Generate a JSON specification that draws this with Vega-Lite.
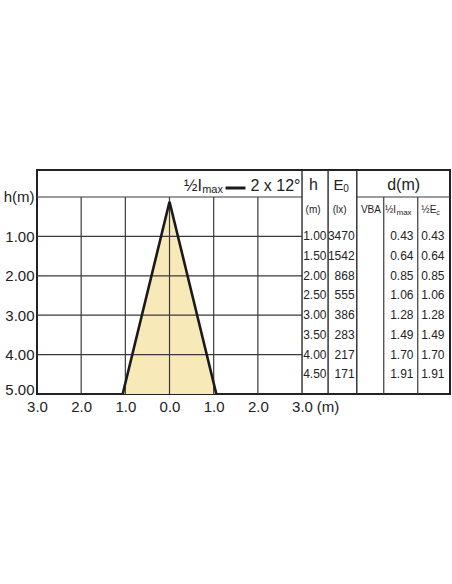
{
  "$schema": "https://vega.github.io/schema/vega-lite/v6.json",
  "width": 413,
  "height": 224,
  "autosize": {"type": "none"},
  "padding": {"left": 37, "top": 170, "right": 2, "bottom": 190},
  "background": "white",
  "data": {"values": [{}]},
  "config": {
    "view": {"stroke": "#222", "strokeWidth": 2},
    "font": "Liberation Sans",
    "text": {"font": "Liberation Sans", "color": "#222"}
  },
  "datasets": {
    "cone": [
      {"h": 0.12, "lo": 0, "hi": 0},
      {"h": 5, "lo": -1.06, "hi": 1.06}
    ],
    "edge": [
      {"h": 5, "d": -1.06},
      {"h": 0.12, "d": 0},
      {"h": 5, "d": 1.06}
    ],
    "table": [
      {"h": 1.0, "E0": 3470, "dI": 0.43, "dE": 0.43},
      {"h": 1.5, "E0": 1542, "dI": 0.64, "dE": 0.64},
      {"h": 2.0, "E0": 868, "dI": 0.85, "dE": 0.85},
      {"h": 2.5, "E0": 555, "dI": 1.06, "dE": 1.06},
      {"h": 3.0, "E0": 386, "dI": 1.28, "dE": 1.28},
      {"h": 3.5, "E0": 283, "dI": 1.49, "dE": 1.49},
      {"h": 4.0, "E0": 217, "dI": 1.70, "dE": 1.70},
      {"h": 4.5, "E0": 171, "dI": 1.91, "dE": 1.91}
    ]
  },
  "layer": [
    {
      "data": {"name": "cone"},
      "mark": {"type": "area", "orient": "horizontal", "color": "#f8e9b9"},
      "encoding": {
        "y": {
          "field": "h", "type": "quantitative",
          "scale": {"domain": [-0.685, 5], "reverse": true, "nice": false, "zero": false},
          "axis": {
            "values": [0, 1, 2, 3, 4, 5],
            "labelExpr": "datum.value == 0 ? 'h(m)' : format(datum.value, '.2f')",
            "title": null, "grid": false, "domain": false, "ticks": false, "tickSize": 0,
            "labelFontSize": 15, "labelFont": "Liberation Sans", "labelColor": "#222",
            "labelPadding": 3,
            "labelBaseline": {"condition": {"test": "datum.value == 5", "value": "alphabetic"}, "value": "middle"}
          }
        },
        "x": {
          "field": "lo", "type": "quantitative",
          "scale": {"domain": [-3, 6.35], "nice": false, "zero": false},
          "axis": {
            "values": [-3, -2, -1, 0, 1, 2, 3],
            "labelExpr": "format(abs(datum.value), '.1f')",
            "title": null, "grid": false, "domain": false, "ticks": false, "tickSize": 0,
            "labelFontSize": 15, "labelFont": "Liberation Sans", "labelColor": "#222",
            "labelPadding": 17, "labelBaseline": "alphabetic", "labelFlush": false
          }
        },
        "x2": {"field": "hi"}
      }
    },
    {
      "data": {"values": [{"v": -2}, {"v": -1}, {"v": 0}, {"v": 1}, {"v": 2}, {"v": 4.85}, {"v": 5.62}]},
      "mark": {"type": "rule", "color": "#3a3a3a", "strokeWidth": 1.2},
      "encoding": {
        "x": {"field": "v", "type": "quantitative"},
        "y": {"datum": 0, "type": "quantitative"},
        "y2": {"datum": 5}
      }
    },
    {
      "data": {"values": [{"v": 3}, {"v": 3.59}, {"v": 4.24}]},
      "mark": {"type": "rule", "color": "#2a2a2a", "strokeWidth": 1.4},
      "encoding": {
        "x": {"field": "v", "type": "quantitative"},
        "y": {"datum": -0.685, "type": "quantitative"},
        "y2": {"datum": 5}
      }
    },
    {
      "data": {"values": [{"v": 0}, {"v": 1}, {"v": 2}, {"v": 3}, {"v": 4}]},
      "mark": {"type": "rule", "color": "#3a3a3a", "strokeWidth": 1.2},
      "encoding": {
        "y": {"field": "v", "type": "quantitative"},
        "x": {"datum": -3, "type": "quantitative"},
        "x2": {"datum": 3}
      }
    },
    {
      "mark": {"type": "rule", "color": "#3a3a3a", "strokeWidth": 1.2},
      "encoding": {
        "y": {"datum": 0, "type": "quantitative"},
        "x": {"datum": 4.24, "type": "quantitative"},
        "x2": {"datum": 6.35}
      }
    },
    {
      "data": {"name": "edge"},
      "mark": {"type": "line", "color": "#1a1a1a", "strokeWidth": 2.6, "strokeJoin": "miter"},
      "encoding": {
        "x": {"field": "d", "type": "quantitative"},
        "y": {"field": "h", "type": "quantitative"}
      }
    },
    {
      "mark": {"type": "rule", "color": "#1a1a1a", "strokeWidth": 3},
      "encoding": {
        "y": {"datum": -0.228, "type": "quantitative"},
        "x": {"datum": 1.268, "type": "quantitative"},
        "x2": {"datum": 1.72}
      }
    },
    {
      "mark": {"type": "text", "text": "½I", "fontSize": 16, "align": "left", "baseline": "alphabetic"},
      "encoding": {"x": {"datum": 0.33, "type": "quantitative"}, "y": {"datum": -0.14, "type": "quantitative"}}
    },
    {
      "mark": {"type": "text", "text": "max", "fontSize": 11, "align": "left", "baseline": "alphabetic"},
      "encoding": {"x": {"datum": 0.74, "type": "quantitative"}, "y": {"datum": -0.09, "type": "quantitative"}}
    },
    {
      "mark": {"type": "text", "text": "2 x 12°", "fontSize": 16, "align": "left", "baseline": "alphabetic"},
      "encoding": {"x": {"datum": 1.834, "type": "quantitative"}, "y": {"datum": -0.14, "type": "quantitative"}}
    },
    {
      "mark": {"type": "text", "text": "h", "fontSize": 16, "align": "center", "baseline": "alphabetic"},
      "encoding": {"x": {"datum": 3.26, "type": "quantitative"}, "y": {"datum": -0.165, "type": "quantitative"}}
    },
    {
      "mark": {"type": "text", "text": "E", "fontSize": 15, "align": "left", "baseline": "alphabetic"},
      "encoding": {"x": {"datum": 3.71, "type": "quantitative"}, "y": {"datum": -0.165, "type": "quantitative"}}
    },
    {
      "mark": {"type": "text", "text": "0", "fontSize": 10, "align": "left", "baseline": "alphabetic"},
      "encoding": {"x": {"datum": 3.935, "type": "quantitative"}, "y": {"datum": -0.12, "type": "quantitative"}}
    },
    {
      "mark": {"type": "text", "text": "d(m)", "fontSize": 16, "align": "center", "baseline": "alphabetic"},
      "encoding": {"x": {"datum": 5.30, "type": "quantitative"}, "y": {"datum": -0.165, "type": "quantitative"}}
    },
    {
      "mark": {"type": "text", "text": "(m)", "fontSize": 10, "align": "center", "baseline": "alphabetic"},
      "encoding": {"x": {"datum": 3.25, "type": "quantitative"}, "y": {"datum": 0.406, "type": "quantitative"}}
    },
    {
      "mark": {"type": "text", "text": "(lx)", "fontSize": 10, "align": "center", "baseline": "alphabetic"},
      "encoding": {"x": {"datum": 3.85, "type": "quantitative"}, "y": {"datum": 0.406, "type": "quantitative"}}
    },
    {
      "mark": {"type": "text", "text": "VBA", "fontSize": 10, "align": "center", "baseline": "alphabetic"},
      "encoding": {"x": {"datum": 4.56, "type": "quantitative"}, "y": {"datum": 0.406, "type": "quantitative"}}
    },
    {
      "mark": {"type": "text", "text": "½I", "fontSize": 10, "align": "left", "baseline": "alphabetic"},
      "encoding": {"x": {"datum": 4.878, "type": "quantitative"}, "y": {"datum": 0.406, "type": "quantitative"}}
    },
    {
      "mark": {"type": "text", "text": "max", "fontSize": 8, "align": "left", "baseline": "alphabetic"},
      "encoding": {"x": {"datum": 5.139, "type": "quantitative"}, "y": {"datum": 0.457, "type": "quantitative"}}
    },
    {
      "mark": {"type": "text", "text": "½E", "fontSize": 10, "align": "left", "baseline": "alphabetic"},
      "encoding": {"x": {"datum": 5.7, "type": "quantitative"}, "y": {"datum": 0.406, "type": "quantitative"}}
    },
    {
      "mark": {"type": "text", "text": "c", "fontSize": 7, "align": "left", "baseline": "alphabetic"},
      "encoding": {"x": {"datum": 6.04, "type": "quantitative"}, "y": {"datum": 0.457, "type": "quantitative"}}
    },
    {
      "data": {"name": "table"},
      "mark": {"type": "text", "fontSize": 12, "align": "right", "baseline": "middle"},
      "encoding": {
        "x": {"datum": 3.555, "type": "quantitative"},
        "y": {"field": "h", "type": "quantitative"},
        "text": {"field": "h", "type": "quantitative", "format": ".2f"}
      }
    },
    {
      "data": {"name": "table"},
      "mark": {"type": "text", "fontSize": 12, "align": "right", "baseline": "middle"},
      "encoding": {
        "x": {"datum": 4.19, "type": "quantitative"},
        "y": {"field": "h", "type": "quantitative"},
        "text": {"field": "E0", "type": "quantitative", "format": "d"}
      }
    },
    {
      "data": {"name": "table"},
      "mark": {"type": "text", "fontSize": 12, "align": "right", "baseline": "middle"},
      "encoding": {
        "x": {"datum": 5.524, "type": "quantitative"},
        "y": {"field": "h", "type": "quantitative"},
        "text": {"field": "dI", "type": "quantitative", "format": ".2f"}
      }
    },
    {
      "data": {"name": "table"},
      "mark": {"type": "text", "fontSize": 12, "align": "right", "baseline": "middle"},
      "encoding": {
        "x": {"datum": 6.226, "type": "quantitative"},
        "y": {"field": "h", "type": "quantitative"},
        "text": {"field": "dE", "type": "quantitative", "format": ".2f"}
      }
    },
    {
      "mark": {"type": "text", "text": "(m)", "fontSize": 15, "align": "center", "baseline": "alphabetic"},
      "encoding": {"x": {"datum": 3.59, "type": "quantitative"}, "y": {"datum": 5.45, "type": "quantitative"}}
    }
  ]
}
